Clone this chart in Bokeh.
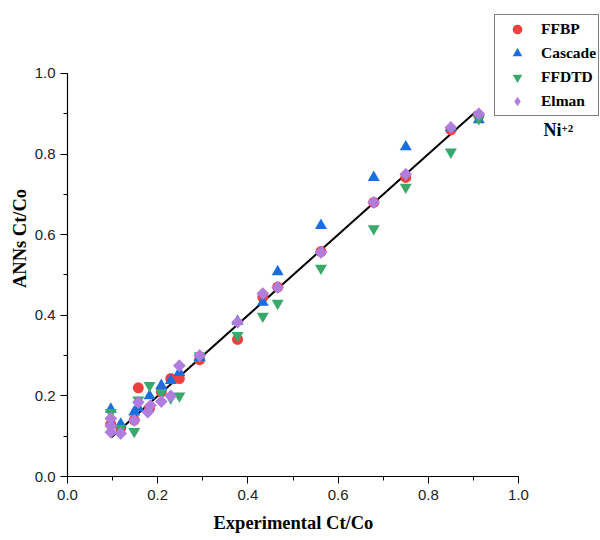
import math
from bokeh.plotting import figure
from bokeh.models import (Legend, LegendItem, Label, SingleIntervalTicker, Range1d,
                          PrintfTickFormatter, Title)
from bokeh.embed import file_html
from bokeh.resources import INLINE

# ---- data ----
x_common = [0.096, 0.118, 0.148, 0.157, 0.182, 0.208, 0.229, 0.248, 0.293,
            0.377, 0.433, 0.466, 0.562, 0.679, 0.750, 0.850, 0.912]
ffbp = [0.130, 0.120, 0.140, 0.220, 0.170, 0.210, 0.243, 0.243, 0.290,
        0.340, 0.445, 0.470, 0.558, 0.680, 0.742, 0.860, 0.895]
cascade = [0.167, 0.130, 0.160, 0.170, 0.200, 0.226, 0.238, 0.258, 0.295,
           0.385, 0.432, 0.508, 0.623, 0.742, 0.818, 0.865, 0.885]
ffdtd = [0.159, 0.120, 0.112, 0.190, 0.226, 0.208, 0.195, 0.200, 0.300,
         0.350, 0.398, 0.430, 0.517, 0.615, 0.718, 0.805, 0.888]
elman_x = [0.096, 0.096, 0.096, 0.118, 0.148, 0.157, 0.178, 0.184, 0.208, 0.229,
           0.248, 0.293, 0.377, 0.433, 0.466, 0.562, 0.679, 0.750, 0.850, 0.912]
elman = [0.144, 0.125, 0.110, 0.107, 0.139, 0.184, 0.160, 0.176, 0.186, 0.200,
         0.275, 0.300, 0.383, 0.454, 0.469, 0.556, 0.680, 0.750, 0.866, 0.900]
fit_x = [0.097, 0.905]
fit_y = [0.097, 0.905]

series_names = ["FFBP", "Cascade", "FFDTD", "Elman"]
colors = ["#EF4040", "#1A6FDF", "#3AA86B", "#B07DDF"]

# frame spans to the right/top edges so the legend and label are not clipped;
# axes are bounded to 0..1
p = figure(width=600, height=540, output_backend="svg", toolbar_location=None,
           x_range=Range1d(0, 1.1818), y_range=Range1d(0, 1.1811),
           min_border_left=67, min_border_top=0, min_border_bottom=0,
           min_border_right=0)
p.outline_line_color = None
p.xgrid.visible = False
p.ygrid.visible = False
p.background_fill_color = "white"
p.border_fill_color = "white"

r_fit = p.line(fit_x, fit_y, line_color="black", line_width=2)

r1 = p.scatter(x_common, ffbp, marker="circle", size=11, fill_color=colors[0],
               line_color=None)
r2 = p.scatter(x_common, cascade, marker="triangle", size=12, fill_color=colors[1],
               line_color=None)
r3 = p.scatter(x_common, ffdtd, marker="inverted_triangle", size=12,
               fill_color=colors[2], line_color=None)
# diamond glyph (used for the legend), covered by the wider rotated squares
r4 = p.scatter(elman_x, elman, marker="diamond", size=12,
               fill_color=colors[3], line_color=None)
r4b = p.scatter(elman_x, elman, marker="square", size=9, angle=math.pi / 4,
                fill_color=colors[3], line_color=None)

for ax in (p.xaxis[0], p.yaxis[0]):
    ax.bounds = (0, 1)
    ax.ticker = SingleIntervalTicker(interval=0.2, num_minor_ticks=2)
    ax.formatter = PrintfTickFormatter(format="%.1f")
    ax.major_label_text_font = "Liberation Sans"
    ax.major_label_text_font_size = "15px"
    ax.major_label_text_color = "#222222"
    ax.axis_label_text_font = "Liberation Serif"
    ax.axis_label_text_font_style = "bold"
    ax.axis_label_text_font_size = "18.5px"
    ax.axis_label_text_color = "black"
    ax.axis_line_color = "black"
    ax.axis_line_width = 1.2
    ax.major_tick_line_color = "black"
    ax.minor_tick_line_color = "black"
    ax.major_tick_out = 7
    ax.major_tick_in = 0
    ax.minor_tick_out = 4
    ax.minor_tick_in = 0

p.yaxis.axis_label = "ANNs Ct/Co"
p.xaxis.major_label_standoff = 6
p.yaxis.major_label_standoff = 5
p.yaxis.axis_label_standoff = 2

# x-axis title, centred under the 0..1 span of the axis
xt = Title(text="Experimental Ct/Co", align="left", offset=146, standoff=16,
           text_font="Liberation Serif", text_font_style="bold",
           text_font_size="18.5px", text_color="black")
p.add_layout(xt, "below")

legend = Legend(items=[
    LegendItem(label=series_names[0], renderers=[r1]),
    LegendItem(label=series_names[1], renderers=[r2]),
    LegendItem(label=series_names[2], renderers=[r3]),
    LegendItem(label=series_names[3], renderers=[r4]),
], location=(427, 360))
legend.label_text_font = "Liberation Serif"
legend.label_text_font_style = "bold"
legend.label_text_font_size = "15.5px"
legend.label_text_color = "black"
legend.border_line_color = "black"
legend.border_line_width = 1
legend.background_fill_color = "white"
legend.background_fill_alpha = 1.0
legend.padding = 2
legend.spacing = 0
legend.margin = 0
legend.label_height = 24
legend.glyph_height = 24
legend.glyph_width = 40
legend.label_standoff = 4
p.add_layout(legend)

p.add_layout(Label(x=476, y=337, x_units="screen", y_units="screen", text="Ni",
                   text_font="Liberation Serif", text_font_style="bold",
                   text_font_size="18px", text_color="black"))
p.add_layout(Label(x=494, y=345, x_units="screen", y_units="screen", text="+2",
                   text_font="Liberation Serif", text_font_style="bold",
                   text_font_size="11px", text_color="black"))

open("out.html", "w").write(file_html(p, INLINE))
